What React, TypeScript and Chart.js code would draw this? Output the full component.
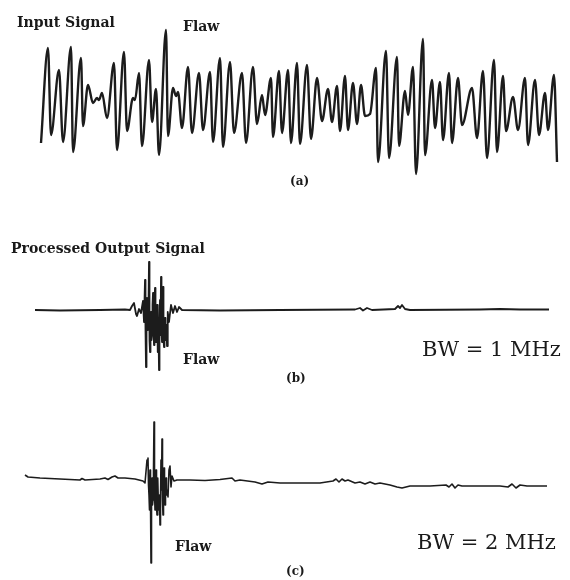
import React, { useEffect, useRef } from "react";
import { Chart, registerables } from "chart.js";
Chart.register(...registerables);

// (a) Input signal: extrema (time in samples, amplitude in arbitrary units)
const aTime = [1, 8, 11, 19, 23, 31, 33, 41, 43, 48, 53, 57, 59, 62, 67, 74, 77, 84, 87, 93, 95, 99, 102, 109, 112, 116, 119, 126, 128, 133, 136, 138, 142, 148, 152, 159, 163, 170, 173, 180, 183, 190, 194, 202, 206, 213, 217, 222, 225, 231, 233, 239, 242, 248, 251, 257, 260, 267, 271, 277, 282, 288, 292, 297, 300, 305, 308, 313, 317, 321, 325, 330, 336, 338, 346, 349, 357, 359, 365, 368, 373, 376, 383, 385, 392, 395, 400, 403, 409, 412, 418, 422, 432, 437, 443, 447, 454, 457, 463, 466, 473, 478, 485, 488, 495, 499, 505, 508, 514, 517];
const aAmp = [-43, 52, -35, 30, -42, 53, -52, 42, -26, 15, -3, 2, 0, 7, -18, 37, -50, 48, -31, 2, 0, 27, -46, 40, -22, 11, -55, 70, -36, 12, 4, 8, -28, 33, -33, 27, -30, 28, -42, 42, -47, 38, -33, 27, -43, 33, -24, 5, -15, 22, -37, 29, -33, 30, -43, 37, -44, 35, -39, 22, -21, 11, -22, 14, -31, 24, -30, 17, -24, 15, -16, -14, 32, -62, 49, -58, 43, -46, 9, -15, 33, -74, 61, -55, 20, -28, 18, -40, 27, -43, 22, -25, 12, -38, 29, -58, 40, -52, 24, -31, 3, -30, 22, -45, 20, -35, 7, -30, 25, -62];

// (b) Processed output, BW = 1 MHz
const bTime = [-5, 20, 60, 85, 90, 92, 94, 96, 97, 99, 101, 103, 104, 105, 105.5, 106, 106.5, 107, 107.5, 108, 108.5, 109, 109.5, 110, 110.5, 111, 111.5, 112, 112.5, 113, 113.5, 114, 114.5, 115, 115.5, 116, 116.5, 117, 117.5, 118, 118.5, 119, 119.5, 120, 120.5, 121, 121.5, 122, 122.5, 123, 123.5, 124, 124.5, 125, 125.5, 126, 126.5, 127, 127.5, 128, 129, 131, 133, 135, 137, 139, 142, 180, 240, 315, 320, 323, 327, 332, 355, 358, 360, 362, 365, 370, 440, 460, 480, 509];
const bAmp = [0, -0.5, 0, 0.5, 0, 4, 7, -4, -6, 1, -3, 9, -12, 30, -20, -57, -10, 12, -20, -15, 5, 48, -30, -42, -5, -2, -30, -25, 5, 17, -20, -35, 10, 22, -12, -32, -8, 5, -30, -42, -20, -60, -10, 10, -25, 33, -20, -32, -5, 23, -30, -37, -12, -8, -30, -28, -15, -36, -20, -2, -12, 5, -3, 4, -2, 3, 0, -0.5, 0, 0.5, 2, -0.5, 2, 0, 1, 4, 2, 5, 1, 0, 0.5, 1, 0.5, 0.5];

// (c) Processed output, BW = 2 MHz
const cTime = [-15, -12, 0, 20, 40, 42, 45, 60, 65, 68, 72, 75, 78, 85, 95, 103, 105, 107, 108, 108.5, 109, 109.5, 110, 110.5, 111, 111.5, 112, 112.5, 113, 113.5, 114, 114.5, 115, 115.5, 116, 116.5, 117, 117.5, 118, 118.5, 119, 119.5, 120, 120.5, 121, 121.5, 122, 122.5, 123, 123.5, 124, 124.5, 125, 125.5, 126, 126.5, 127, 128, 129, 130, 131, 132, 134, 137, 150, 165, 180, 192, 195, 200, 215, 222, 228, 240, 250, 260, 280, 293, 296, 299, 302, 305, 308, 315, 320, 325, 330, 335, 340, 350, 357, 362, 370, 390, 406, 409, 412, 415, 418, 422, 440, 460, 468, 472, 476, 480, 487, 507];
const cAmp = [5, 3, 2, 1, 0, 1.5, 0, 1, 2, 0.5, 3, 4, 2, 2, 1, -1, -3, 20, 22, -5, -15, -30, 10, -20, -83, -10, 2, -25, -20, 10, 58, -10, -30, -10, 10, -25, -35, -15, 2, -30, -25, -15, -45, -20, 20, -10, 41, -20, -35, -5, 12, -20, -25, -5, 2, -15, -10, -17, 10, 14, -7, 4, -1, 0, 0, -0.5, 0.5, 2, -1, 0, -2, -4, -2, -3, -3, -3, -3, -1, 1, -2, 1, -1, 0, -3, -2, -4, -2, -4, -3, -5, -7, -8, -6, -6, -5, -7, -4, -8, -5, -6, -6, -6, -7, -4, -8, -5, -6, -6];

type PanelProps = {
  top: number;
  height: number;
  time: number[];
  amp: number[];
  yMin: number;
  yMax: number;
  padTop: number;
  padBottom: number;
  lineWidth: number;
  smooth: boolean;
};

function Panel(p: PanelProps) {
  const ref = useRef<HTMLCanvasElement | null>(null);
  useEffect(() => {
    if (!ref.current) return;
    const chart = new Chart(ref.current, {
      type: "line",
      data: {
        datasets: [
          {
            data: p.time.map((t, i) => ({ x: t, y: p.amp[i] })),
            borderColor: "#1c1c1c",
            borderWidth: p.lineWidth,
            pointRadius: 0,
            fill: false,
            tension: p.smooth ? 0.4 : 0,
            cubicInterpolationMode: p.smooth ? "monotone" : "default",
            borderJoinStyle: "round",
          } as any,
        ],
      },
      options: {
        animation: false,
        responsive: false,
        layout: { padding: { top: p.padTop, bottom: p.padBottom, left: 0, right: 0 } },
        plugins: { legend: { display: false }, tooltip: { enabled: false }, title: { display: false } },
        scales: {
          x: { type: "linear", min: -40, max: 530, display: false },
          y: { type: "linear", min: p.yMin, max: p.yMax, display: false },
        },
      },
    });
    return () => chart.destroy();
  }, []);
  return (
    <canvas
      ref={ref}
      width={570}
      height={p.height}
      style={{ position: "absolute", left: 0, top: p.top, width: 570, height: p.height }}
    />
  );
}

const bold: React.CSSProperties = {
  position: "absolute",
  fontFamily: "'DejaVu Serif', serif",
  fontWeight: "bold",
  color: "#1a1a1a",
  lineHeight: 1,
  whiteSpace: "nowrap",
};
const plain: React.CSSProperties = { ...bold, fontWeight: "normal" };

export default function App() {
  return (
    <div style={{ position: "absolute", left: 0, top: 0, width: 570, height: 580, background: "#fff", overflow: "hidden" }}>
      <Panel top={0} height={200} time={aTime} amp={aAmp} yMin={-80} yMax={80} padTop={20} padBottom={20} lineWidth={2.4} smooth={true} />
      <Panel top={200} height={200} time={bTime} amp={bAmp} yMin={-70} yMax={90} padTop={20} padBottom={20} lineWidth={1.8} smooth={false} />
      <Panel top={390} height={190} time={cTime} amp={cAmp} yMin={-90} yMax={70} padTop={20} padBottom={10} lineWidth={1.6} smooth={false} />
      <div style={{ ...bold, left: 17, top: 15, fontSize: 14 }}>Input Signal</div>
      <div style={{ ...bold, left: 183, top: 19, fontSize: 14 }}>Flaw</div>
      <div style={{ ...bold, left: 290, top: 175, fontSize: 12 }}>(a)</div>
      <div style={{ ...bold, left: 11, top: 241, fontSize: 14 }}>Processed Output Signal</div>
      <div style={{ ...bold, left: 183, top: 352, fontSize: 14 }}>Flaw</div>
      <div style={{ ...plain, left: 422, top: 339, fontSize: 21 }}>BW = 1 MHz</div>
      <div style={{ ...bold, left: 286, top: 372, fontSize: 12 }}>(b)</div>
      <div style={{ ...bold, left: 175, top: 539, fontSize: 14 }}>Flaw</div>
      <div style={{ ...plain, left: 417, top: 532, fontSize: 21 }}>BW = 2 MHz</div>
      <div style={{ ...bold, left: 286, top: 565, fontSize: 12 }}>(c)</div>
    </div>
  );
}
